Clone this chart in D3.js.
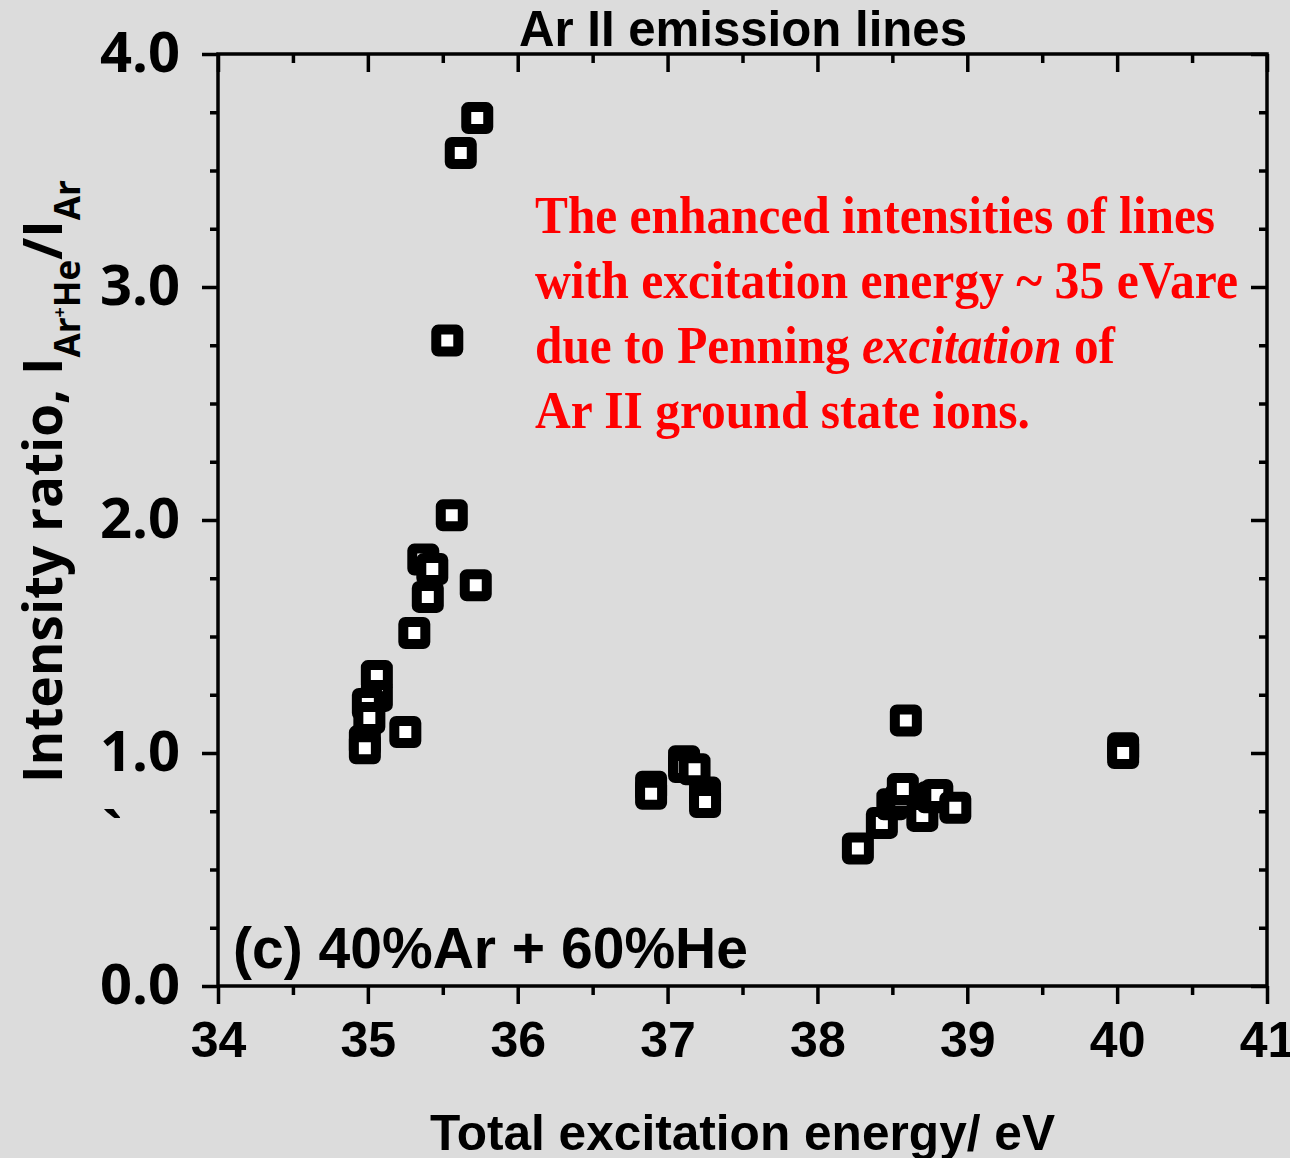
<!DOCTYPE html>
<html>
<head>
<meta charset="utf-8">
<script src="https://cdn.jsdelivr.net/npm/d3@7"></script>
<style>
  html, body { margin: 0; padding: 0; background: #dcdcdc; }
  svg { display: block; }
</style>
</head>
<body>
<div id="chart"></div>
<script>
/* Ar II emission lines — intensity ratio vs total excitation energy */

// Data (eV, ratio)
const energy = [
  35.73, 35.62, 35.53, 35.56, 35.37, 35.43, 35.72, 35.40, 35.31,
  35.06, 35.06, 35.00, 35.01, 35.25, 34.98, 34.98,
  36.89, 36.89, 37.11, 37.11, 37.18, 37.25, 37.25,
  38.59, 38.27, 38.43, 38.50, 38.56, 38.57, 38.70, 38.77, 38.80, 38.92,
  40.04, 40.04,
];
const ratio = [
  3.725, 3.575, 2.77, 2.02, 1.83, 1.79, 1.72, 1.67, 1.515,
  1.33, 1.245, 1.21, 1.15, 1.09, 1.05, 1.02,
  0.855, 0.825, 0.965, 0.94, 0.93, 0.83, 0.79,
  1.14, 0.59, 0.70, 0.78, 0.80, 0.845, 0.73, 0.81, 0.82, 0.765,
  1.02, 1.00,
];

const xMajor = [34, 35, 36, 37, 38, 39, 40, 41];
const xMinor = [34.5, 35.5, 36.5, 37.5, 38.5, 39.5, 40.5];
const yMajor = [0, 1, 2, 3, 4];
const yMinor = [0.25, 0.5, 0.75, 1.25, 1.5, 1.75, 2.25, 2.5, 2.75, 3.25, 3.5, 3.75];

const noteLines = [
  'The enhanced intensities of lines',
  'with excitation energy ~ 35 eVare',
  'due to Penning |excitation| of',
  'Ar II ground state ions.',
];

const W = 1290, H = 1158;
const M = { top: 54, right: 23, bottom: 172, left: 218 };
const iW = W - M.left - M.right;
const iH = H - M.top - M.bottom;

const SANS = '"Liberation Sans", Arial, sans-serif';
const OPEN = '"Open Sans", "Liberation Sans", sans-serif';
const SERIF = '"Liberation Serif", "Times New Roman", serif';

const svg = d3.select('#chart')
  .append('svg')
  .attr('width', W)
  .attr('height', H)
  .style('background', '#dcdcdc');

const g = svg.append('g').attr('transform', `translate(${M.left},${M.top})`);

const x = d3.scaleLinear().domain([34, 41]).range([0, iW]);
const y = d3.scaleLinear().domain([0, 4]).range([iH, 0]);

const styleAxis = ax => {
  ax.select('.domain').remove();
  ax.selectAll('line').attr('stroke', '#000').attr('stroke-width', 3.5);
};

// Minor ticks
g.append('g').attr('transform', `translate(0,${iH})`)
  .call(d3.axisBottom(x).tickValues(xMinor).tickSize(9).tickFormat(''))
  .call(styleAxis);
g.append('g')
  .call(d3.axisTop(x).tickValues(xMinor).tickSize(-9).tickFormat(''))
  .call(styleAxis);
g.append('g')
  .call(d3.axisLeft(y).tickValues(yMinor).tickSize(8).tickFormat(''))
  .call(styleAxis);
g.append('g').attr('transform', `translate(${iW},0)`)
  .call(d3.axisRight(y).tickValues(yMinor).tickSize(-8).tickFormat(''))
  .call(styleAxis);

// Major ticks + labels
g.append('g').attr('transform', `translate(0,${iH})`)
  .call(d3.axisBottom(x).tickValues(xMajor).tickSize(18).tickPadding(17).tickFormat(d3.format('d')))
  .call(styleAxis)
  .call(ax => ax.selectAll('text')
    .attr('font-family', SANS).attr('font-weight', 700)
    .attr('font-size', 50).attr('fill', '#000'));

g.append('g')
  .call(d3.axisTop(x).tickValues(xMajor).tickSize(-18).tickFormat(''))
  .call(styleAxis);

g.append('g')
  .call(d3.axisLeft(y).tickValues(yMajor).tickSize(16).tickPadding(22).tickFormat(d3.format('.1f')))
  .call(styleAxis)
  .call(ax => ax.selectAll('text')
    .attr('font-family', OPEN).attr('font-weight', 700)
    .attr('font-size', 56).attr('fill', '#000'));

g.append('g').attr('transform', `translate(${iW},0)`)
  .call(d3.axisRight(y).tickValues(yMajor).tickSize(-16).tickFormat(''))
  .call(styleAxis);

// Frame
g.append('rect')
  .attr('width', iW).attr('height', iH)
  .attr('fill', 'none')
  .attr('stroke', '#000')
  .attr('stroke-width', 3.5);

// Open square markers (thick black outline, small white centre)
const pts = energy.map((e, i) => ({ e, r: ratio[i] }));
const S = 22;
g.selectAll('rect.pt')
  .data(pts)
  .join('rect')
  .attr('class', 'pt')
  .attr('x', d => x(d.e) - S / 2)
  .attr('y', d => y(d.r) - S / 2)
  .attr('width', S).attr('height', S)
  .attr('rx', 2)
  .attr('fill', '#fff')
  .attr('stroke', '#000')
  .attr('stroke-width', 10)
  .attr('stroke-linejoin', 'round');

// Title
svg.append('text')
  .attr('x', 519).attr('y', 46)
  .attr('font-family', SANS).attr('font-weight', 700)
  .attr('font-size', 50)
  .attr('textLength', 448).attr('lengthAdjust', 'spacingAndGlyphs')
  .text('Ar II emission lines');

// Red annotation
const noteW = [680, 703, 580, 495];
noteLines.forEach((line, i) => {
  const t = svg.append('text')
    .attr('x', 535).attr('y', 233 + i * 65)
    .attr('font-family', SERIF).attr('font-weight', 700)
    .attr('font-size', 52).attr('fill', '#ff0000')
    .attr('textLength', noteW[i]).attr('lengthAdjust', 'spacingAndGlyphs');
  line.split('|').forEach((part, j) => {
    t.append('tspan')
      .attr('font-style', j % 2 ? 'italic' : 'normal')
      .text(part);
  });
});

// Panel label
svg.append('text')
  .attr('x', 233).attr('y', 968)
  .attr('font-family', SANS).attr('font-weight', 700)
  .attr('font-size', 58)
  .attr('textLength', 515).attr('lengthAdjust', 'spacingAndGlyphs')
  .text('(c) 40%Ar + 60%He');

// X axis title
svg.append('text')
  .attr('x', 430).attr('y', 1150)
  .attr('font-family', SANS).attr('font-weight', 700)
  .attr('font-size', 50)
  .attr('textLength', 625).attr('lengthAdjust', 'spacingAndGlyphs')
  .text('Total excitation energy/ eV');

// Y axis title with subscripts
const yt = svg.append('text')
  .attr('transform', 'translate(62,783) rotate(-90)')
  .attr('font-family', OPEN).attr('font-weight', 700)
  .attr('font-size', 53);
yt.append('tspan').text('Intensity ratio, I');
yt.append('tspan').attr('font-size', 35).attr('dy', 18).text('Ar');
yt.append('tspan').attr('font-size', 18).attr('dy', -14).text('+');
yt.append('tspan').attr('font-size', 35).attr('dy', 14).text('He');
yt.append('tspan').attr('dy', -18).text('/I');
yt.append('tspan').attr('font-size', 35).attr('dy', 18).text('Ar');

// stray mark left in the original figure
svg.append('text')
  .attr('x', 102).attr('y', 852)
  .attr('font-family', OPEN).attr('font-weight', 700)
  .attr('font-size', 56)
  .text('`');
</script>
</body>
</html>
